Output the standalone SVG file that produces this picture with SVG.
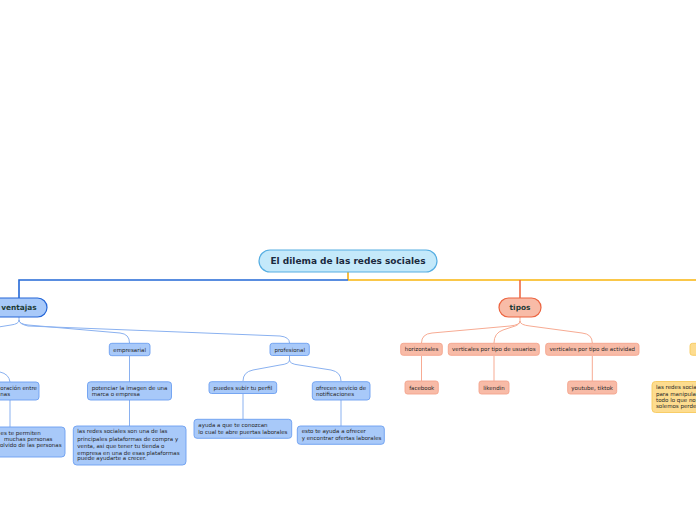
<svg xmlns="http://www.w3.org/2000/svg" width="696" height="520" viewBox="0 0 696 520">
<style>
  .t { font-family: "DejaVu Sans", Verdana, sans-serif; font-size: 5.5px; fill: #262626; }
  .c { text-anchor: middle; }
  .root { fill: #c4e9fa; stroke: #56aee2; stroke-width: 1.2; }
  .rt { font-family: "DejaVu Sans", Verdana, sans-serif; font-size: 9px; font-weight: bold; fill: #1b2a3e; text-anchor: middle; }
  .mt { font-family: "DejaVu Sans", Verdana, sans-serif; font-size: 7.4px; font-weight: bold; fill: #1d3b36; text-anchor: middle; }
  .bm { fill: #a8c9f9; stroke: #2466d8; stroke-width: 1.2; }
  .bs { fill: #a8c9f9; stroke: #6b9ef0; stroke-width: 0.9; }
  .om { fill: #f8bba7; stroke: #ec6440; stroke-width: 1.2; }
  .os { fill: #f8bba7; stroke: #f4a48c; stroke-width: 0.9; }
  .ys { fill: #fddc8f; stroke: #f7ca5c; stroke-width: 0.9; }
  .lb { fill: none; stroke: #8ab1f0; stroke-width: 1; }
  .lo { fill: none; stroke: #f7ab93; stroke-width: 1; }
</style>
<g id="connectors">
  <path d="M348,272 V280" fill="none" stroke="#f6ad12" stroke-width="1.6"/>
  <path d="M348,280 H19 V298" fill="none" stroke="#2368d6" stroke-width="1.6"/>
  <path d="M348,280 H696" fill="none" stroke="#f9b40c" stroke-width="1.6"/>
  <path d="M520,280 V298" fill="none" stroke="#ee6a45" stroke-width="1.6"/>
  <path class="lb" d="M19,317 V320 Q19,324 11,325 L-20,330"/>
  <path class="lb" d="M19,320 Q19,324 28,325 L120,333 Q129.5,334 129.5,343"/>
  <path class="lb" d="M19,320 Q19,324 28,326 L280,336 Q289.5,337 289.5,343"/>
  <path class="lb" d="M0,372 Q9,374 10,382"/>
  <path class="lb" d="M10,400 V427"/>
  <path class="lb" d="M129.5,356 V382"/>
  <path class="lb" d="M129.5,400 V426"/>
  <path class="lb" d="M289.5,355 V360 Q289.5,364 280,365 L253,370 Q243,372 243,381"/>
  <path class="lb" d="M289.5,360 Q289.5,364 299,365 L331,370 Q341,372 341,381"/>
  <path class="lb" d="M243,394 V419"/>
  <path class="lb" d="M341,400 V426"/>
  <path class="lo" d="M520,317 V321 Q520,325 510,326 L432,333 Q421.5,334 421.5,343"/>
  <path class="lo" d="M520,321 Q520,325 512,327 L503,330 Q494,333 494,343"/>
  <path class="lo" d="M520,321 Q520,325 530,326 L582,333 Q592.3,334 592.3,343"/>
  <path class="lo" d="M421.5,356 V381"/>
  <path class="lo" d="M494,356 V381"/>
  <path class="lo" d="M592.3,356 V381"/>
</g>
<g id="root">
  <rect class="root" x="259" y="250" width="178" height="22" rx="11"/>
  <text class="rt" x="348" y="264.3">El dilema de las redes sociales</text>
</g>
<g id="ventajas">
  <rect class="bm" x="-12" y="298" width="59" height="19" rx="9.5"/>
  <text class="mt" x="19" y="310.3">ventajas</text>
</g>
<g id="tipos">
  <rect class="om" x="499" y="298" width="42" height="19" rx="9.5"/>
  <text class="mt" x="520" y="310.3">tipos</text>
</g>
<g id="colaboracion">
  <rect class="bs" x="-20" y="382" width="59" height="18" rx="3"/>
  <text class="t" x="0.3" y="390.3">oración entre</text>
  <text class="t" x="0.3" y="396">nas</text>
</g>
<g id="conectar">
  <rect class="bs" x="-20" y="427" width="85" height="30" rx="3.5"/>
  <text class="t" x="0.5" y="434.5">es te permiten</text>
  <text class="t" x="4" y="440.7">muchas personas</text>
  <text class="t" x="0" y="446.9">olvido de las personas</text>
</g>
<g id="empresarial">
  <rect class="bs" x="109.3" y="343.3" width="40.7" height="12.4" rx="2.5"/>
  <text class="t c" x="129.6" y="351.5">empresarial</text>
</g>
<g id="potenciar">
  <rect class="bs" x="87.5" y="381.8" width="84" height="18.2" rx="3"/>
  <text class="t" x="91.7" y="390.2">potenciar la imagen de una</text>
  <text class="t" x="91.7" y="396">marca o empresa</text>
</g>
<g id="plataformas">
  <rect class="bs" x="73.3" y="426" width="112.7" height="39" rx="3.5"/>
  <text class="t" x="77.3" y="433.4">las redes sociales son una de las</text>
  <text class="t" x="77.3" y="440.5">principales plataformas de compra y</text>
  <text class="t" x="77.3" y="447.6">venta, asi que tener tu tienda o</text>
  <text class="t" x="77.3" y="454.6">empresa en una de esas plataformas</text>
  <text class="t" x="77.3" y="460.4">puede ayudarte a crecer.</text>
</g>
<g id="profesional">
  <rect class="bs" x="270" y="343.3" width="39.3" height="12.2" rx="2.5"/>
  <text class="t c" x="289.7" y="351.5">profesional</text>
</g>
<g id="perfil">
  <rect class="bs" x="209" y="381.7" width="67.7" height="11.8" rx="2.5"/>
  <text class="t c" x="242.8" y="389.6">puedes subir tu perfil</text>
</g>
<g id="conozcan">
  <rect class="bs" x="194" y="419.3" width="97.7" height="19" rx="3"/>
  <text class="t" x="198.3" y="427">ayuda a que te conozcan</text>
  <text class="t" x="198.3" y="433.7">lo cual te abre puertas laborales</text>
</g>
<g id="notificaciones">
  <rect class="bs" x="312.3" y="381.7" width="57.7" height="18.3" rx="3"/>
  <text class="t" x="316" y="389.7">ofrecen sevicio de</text>
  <text class="t" x="316" y="396.3">notificaciones</text>
</g>
<g id="ofertas">
  <rect class="bs" x="297.3" y="426" width="87" height="18.3" rx="3"/>
  <text class="t" x="301.7" y="433">esto te ayuda a ofrecer</text>
  <text class="t" x="301.7" y="440.3">y encontrar ofertas laborales</text>
</g>
<g id="horizontales">
  <rect class="os" x="400.7" y="343.3" width="41.6" height="12" rx="2.5"/>
  <text class="t c" x="421.5" y="351.4">horizontales</text>
</g>
<g id="usuarios">
  <rect class="os" x="448.3" y="343.3" width="91" height="12" rx="2.5"/>
  <text class="t c" x="493.8" y="351.4">verticales por tipo de usuarios</text>
</g>
<g id="actividad">
  <rect class="os" x="545.7" y="343.3" width="93.3" height="12" rx="2.5"/>
  <text class="t c" x="592.3" y="351.4">verticales por tipo de actividad</text>
</g>
<g id="facebook">
  <rect class="os" x="405" y="381" width="33.3" height="13" rx="2.5"/>
  <text class="t c" x="421.7" y="389.5">facebook</text>
</g>
<g id="likendin">
  <rect class="os" x="479" y="381" width="30" height="13" rx="2.5"/>
  <text class="t c" x="494" y="389.5">likendin</text>
</g>
<g id="youtube">
  <rect class="os" x="567.7" y="381" width="49" height="13" rx="2.5"/>
  <text class="t c" x="592.2" y="389.5">youtube, tiktok</text>
</g>
<g id="yellow-node">
  <rect class="ys" x="690" y="343.3" width="20" height="12" rx="2.5"/>
</g>
<g id="manipular">
  <rect class="ys" x="652" y="381.5" width="60" height="31" rx="3.5"/>
  <text class="t" x="656" y="389.3">las redes socia</text>
  <text class="t" x="656" y="395.5">para manipula</text>
  <text class="t" x="656" y="401.7">todo lo que no</text>
  <text class="t" x="656" y="407.9">solemos perde</text>
</g>
</svg>
